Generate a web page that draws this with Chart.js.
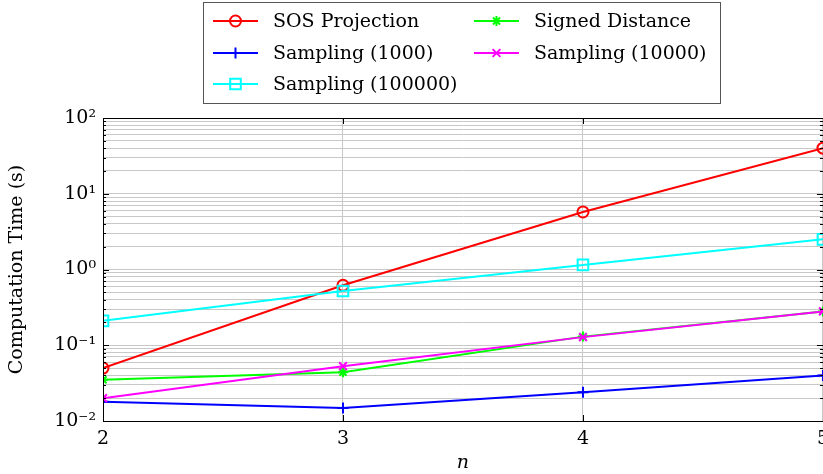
<!DOCTYPE html>
<html lang="en">
	<head>
		<meta charset="UTF-8"/>
		<title>Computation Time</title>
		<script src="https://cdn.jsdelivr.net/npm/chart.js@4.4.1/dist/chart.umd.min.js"></script>
		<style>
			html, body { margin: 0; padding: 0; overflow: hidden; background: #fff; }
		</style>
	</head>
	<body>
		<canvas id="chart" width="836" height="474"></canvas>
		<script>
			const nValues = [2, 3, 4, 5];
			const sosProjection = [0.050, 0.62, 5.75, 40];
			const signedDistance = [0.035, 0.044, 0.13, 0.28];
			const sampling1000 = [0.018, 0.0148, 0.024, 0.040];
			const sampling10000 = [0.020, 0.053, 0.128, 0.28];
			const sampling100000 = [0.21, 0.52, 1.15, 2.5];
			const seriesNames = ['SOS Projection', 'Signed Distance', 'Sampling (1000)', 'Sampling (10000)', 'Sampling (100000)'];
			const yTickLabels = {'-2': '10⁻²', '-1': '10⁻¹', '0': '10⁰', '1': '10¹', '2': '10²'};

			const serif = "'DejaVu Serif', 'Liberation Serif', serif";

			function series(name, values, color, style, radius, order) {
				return {
					label: name,
					data: nValues.map((n, i) => ({x: n, y: values[i]})),
					borderColor: color,
					backgroundColor: 'rgba(0,0,0,0)',
					pointBorderColor: color,
					pointBackgroundColor: 'rgba(0,0,0,0)',
					pointStyle: style,
					pointRadius: radius,
					pointBorderWidth: 2,
					borderWidth: 2,
					tension: 0,
					order: order
				};
			}

			const datasets = [
				series(seriesNames[0], sosProjection, '#ff0000', 'circle', 5.5, 5),
				series(seriesNames[1], signedDistance, '#00ff00', 'star', 5, 2),
				series(seriesNames[2], sampling1000, '#0000ff', 'cross', 5.5, 4),
				series(seriesNames[3], sampling10000, '#ff00ff', 'crossRot', 5.5, 1),
				series(seriesNames[4], sampling100000, '#00ffff', 'rect', 7.5, 3)
			];

			// legend box + inner ticks + frame, pgfplots style
			const decorations = {
				id: 'decorations',
				afterDraw(chart) {
					const ctx = chart.ctx;
					const area = chart.chartArea;
					const yScale = chart.scales.y;
					const xScale = chart.scales.x;
					ctx.save();
					ctx.strokeStyle = '#000';
					ctx.lineWidth = 1;
					yScale.ticks.forEach(t => {
						const p = Math.round(yScale.getPixelForValue(t.value)) + 0.5;
						const major = Math.abs(Math.log10(t.value) - Math.round(Math.log10(t.value))) < 1e-6;
						const len = major ? 6 : 3;
						ctx.beginPath();
						ctx.moveTo(area.left, p); ctx.lineTo(area.left + len, p);
						ctx.moveTo(area.right, p); ctx.lineTo(area.right - len, p);
						ctx.stroke();
					});
					xScale.ticks.forEach(t => {
						const p = Math.round(xScale.getPixelForValue(t.value)) + 0.5;
						ctx.beginPath();
						ctx.moveTo(p, area.bottom); ctx.lineTo(p, area.bottom - 6);
						ctx.moveTo(p, area.top); ctx.lineTo(p, area.top + 6);
						ctx.stroke();
					});
					ctx.strokeRect(Math.round(area.left) + 0.5, Math.round(area.top) + 0.5,
						Math.round(area.right - area.left), Math.round(area.bottom - area.top));

					// legend
					const box = {x: 203.5, y: 2.5, w: 517, h: 101};
					ctx.fillStyle = '#fff';
					ctx.fillRect(box.x, box.y, box.w, box.h);
					ctx.strokeStyle = '#555';
					ctx.strokeRect(box.x, box.y, box.w, box.h);
					const cols = [213, 474];
					const rows = [21, 53, 84];
					ctx.textBaseline = 'middle';
					chart.data.datasets.forEach((ds, i) => {
						const x0 = cols[i % 2];
						const y0 = rows[Math.floor(i / 2)];
						ctx.strokeStyle = ds.borderColor;
						ctx.fillStyle = 'rgba(0,0,0,0)';
						ctx.lineWidth = 2;
						ctx.beginPath();
						ctx.moveTo(x0, y0); ctx.lineTo(x0 + 45, y0);
						ctx.stroke();
						Chart.helpers.drawPoint(ctx, {
							pointStyle: ds.pointStyle, radius: ds.pointRadius, borderWidth: 2, rotation: 0
						}, x0 + 22.5, y0);
						ctx.fillStyle = '#000';
						ctx.font = '19px ' + serif;
						ctx.fillText(ds.label, x0 + 60, y0 + 1);
					});
					ctx.restore();
				}
			};

			new Chart(document.getElementById('chart').getContext('2d'), {
				type: 'line',
				data: {datasets: datasets},
				options: {
					responsive: false,
					animation: false,
					layout: {padding: {top: 118, left: 4, right: 0, bottom: 0}},
					plugins: {legend: {display: false}, tooltip: {enabled: false}},
					scales: {
						x: {
							type: 'linear',
							min: 2, max: 5,
							afterFit(scale) { scale.height = 53; },
							ticks: {
								stepSize: 1,
								color: '#000',
								padding: 7,
								font: {family: serif, size: 19}
							},
							grid: {color: '#c8c8c8', drawTicks: false},
							border: {color: '#000'},
							title: {
								display: true,
								text: 'n',
								color: '#000',
								padding: {top: 0, bottom: 0},
								font: {family: serif, size: 19, style: 'italic'}
							}
						},
						y: {
							type: 'logarithmic',
							min: 0.01, max: 100,
							afterFit(scale) { scale.width = 99; },
							afterBuildTicks(scale) {
								const ticks = [];
								for (let e = -2; e <= 2; e++) {
									for (let m = 1; m <= 9; m++) {
										const v = m * Math.pow(10, e);
										if (v <= 100.0001) ticks.push({value: v});
									}
								}
								scale.ticks = ticks;
							},
							ticks: {
								autoSkip: false,
								color: '#000',
								padding: 7,
								font: {family: serif, size: 19},
								callback(value) {
									const e = Math.log10(value);
									const r = Math.round(e);
									return Math.abs(e - r) < 1e-6 ? yTickLabels[String(r)] : '';
								}
							},
							grid: {color: '#c8c8c8', drawTicks: false},
							border: {color: '#000'},
							title: {
								display: true,
								text: 'Computation Time (s)',
								color: '#000',
								padding: {top: 2, bottom: 4},
								font: {family: serif, size: 19}
							}
						}
					}
				},
				plugins: [decorations]
			});
		</script>
	</body>
</html>
